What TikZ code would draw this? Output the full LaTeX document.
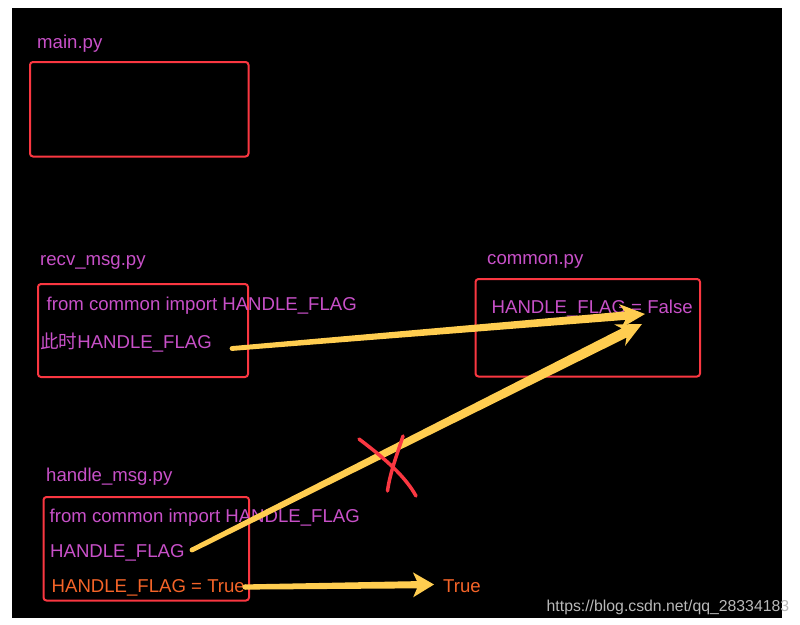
\documentclass[tikz,border=0pt]{standalone}
\usepackage{fontspec}
\setmainfont{Liberation Sans}
\newfontfamily\cjk{Noto Sans CJK SC}
\usetikzlibrary{calc}
\definecolor{txtmag}{RGB}{200,80,200}
\definecolor{txtorg}{RGB}{245,100,40}
\definecolor{boxred}{RGB}{250,55,65}
\definecolor{arryel}{RGB}{255,205,80}
\definecolor{wmgray}{RGB}{185,185,185}
\newcommand\fatarrow[7]{%
  \path ($(#2)!#6!(#1)$) coordinate (fa-s) ($(#2)!#7!(#1)$) coordinate (fa-n);
  \fill[arryel] ($(#1)!#3!90:(#2)$) -- ($(fa-s)!#4!-90:(#1)$) -- ($(fa-n)!#5!-90:(#1)$)
    -- (#2) -- ($(fa-n)!#5!90:(#1)$) -- ($(fa-s)!#4!90:(#1)$) -- ($(#1)!#3!-90:(#2)$) -- cycle;
  \fill[arryel] (#1) circle (#3);
}
\tikzset{
  filebox/.style={draw=boxred, line width=2pt, rounded corners=3pt},
  lbl/.style={anchor=base west, inner sep=0pt, text=txtmag, font=\fontsize{18.6}{22}\selectfont},
  olbl/.style={lbl, text=txtorg},
  cross/.style={draw=boxred, line width=3.5pt, line cap=round},
}
\begin{document}
\begin{tikzpicture}[x=1pt,y=-1pt]
\useasboundingbox (0,0) rectangle (800,624);
\fill[white] (0,0) rectangle (800,624);
\fill[black] (12,8) rectangle (782,618);
% boxes
\draw[filebox] (30,62) rectangle (248.5,156.5);
\draw[filebox] (38,284) rectangle (248,377);
\draw[filebox] (475.5,279) rectangle (700,376.5);
\draw[filebox] (43.5,497) rectangle (249,600.5);
% labels
\node[lbl] (lmain) at (37,48.5) {main.py};
\node[lbl] (lrecv) at (40,265) {recv\_msg.py};
\node[lbl] (lcommon) at (487,264) {common.py};
\node[lbl] (lhandle) at (46,481) {handle\_msg.py};
% contents
\node[lbl] (rimp) at (46.5,310.5) {from common import HANDLE\_FLAG};
\node[lbl] (rflag) at (40,348) {{\cjk 此时}HANDLE\_FLAG};
\node[lbl] (cflag) at (491.5,313) {HANDLE\_FLAG = False};
\node[lbl] (himp) at (49.5,522) {from common import HANDLE\_FLAG};
\node[lbl] (hflag) at (50,557) {HANDLE\_FLAG};
\node[olbl] (hset) at (51.5,592) {HANDLE\_FLAG = True};
\node[olbl] (tru) at (443,592.5) {True};
\node[anchor=base west, inner sep=0pt, text=wmgray, font=\fontsize{15.8}{18}\selectfont] (wm) at (546.5,611) {https://blog.csdn.net/qq\_28334183};
% arrow end points
\coordinate (a1s) at (232,348.5);
\coordinate (a1e) at (645,314);
\coordinate (a2s) at (192,550);
\coordinate (a2e) at (642,324);
\coordinate (a3s) at (245,587);
\coordinate (a3e) at (434,584.5);
\fatarrow{a1s}{a1e}{2.4pt}{4.2pt}{12pt}{20pt}{25pt}
\fatarrow{a2s}{a2e}{2.4pt}{5.2pt}{12pt}{20pt}{25pt}
\fatarrow{a3s}{a3e}{2.6pt}{3.6pt}{12.5pt}{17pt}{21pt}
% red cross
\coordinate (x1a) at (359,439);
\coordinate (x1b) at (416,496);
\coordinate (x2a) at (403,436);
\coordinate (x2b) at (387.5,491);
\draw[cross] (x1a) .. controls (380,455) and (404,474) .. (x1b);
\draw[cross] (x2a) .. controls (398,452) and (390,472) .. (x2b);
\end{tikzpicture}
\end{document}
